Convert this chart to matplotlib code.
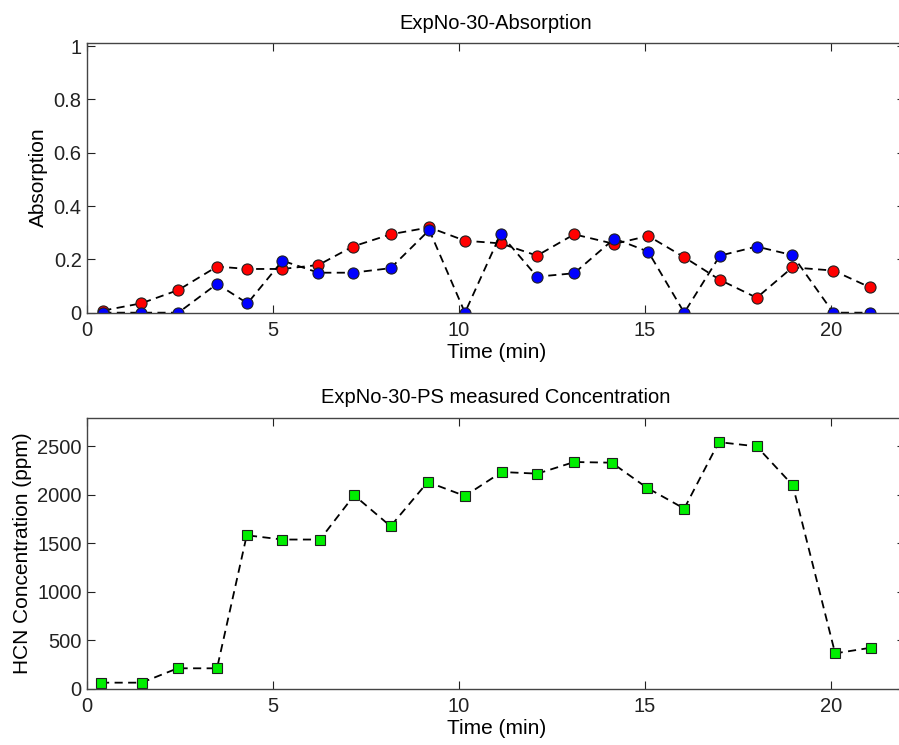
import matplotlib
matplotlib.use('Agg')

import matplotlib.pyplot as plt

plt.rcParams['font.family'] = ['Liberation Sans', 'DejaVu Sans']

# time points (min)
time_abs = [0.43, 1.45, 2.45, 3.49, 4.31, 5.25, 6.22, 7.14, 8.16, 9.2, 10.16,
            11.12, 12.1, 13.1, 14.18, 15.09, 16.06, 17.02, 18.01, 18.97, 20.07, 21.06]
abs_red = [0.008, 0.035, 0.085, 0.173, 0.164, 0.164, 0.179, 0.248, 0.294, 0.32, 0.27,
           0.26, 0.214, 0.294, 0.258, 0.288, 0.208, 0.123, 0.056, 0.17, 0.158, 0.095]
abs_blue = [0.0, 0.0, 0.0, 0.108, 0.035, 0.195, 0.15, 0.15, 0.167, 0.31, 0.0,
            0.295, 0.135, 0.148, 0.278, 0.229, 0.0, 0.214, 0.248, 0.216, 0.0, 0.0]

time_conc = [0.37, 1.46, 2.43, 3.49, 4.29, 5.25, 6.26, 7.18, 8.16, 9.16, 10.16,
             11.15, 12.11, 13.1, 14.11, 15.05, 16.06, 16.99, 18.01, 18.98, 20.12, 21.08]
hcn_conc = [65, 65, 213, 213, 1584, 1540, 1540, 1996, 1677, 2133, 1989,
            2236, 2219, 2339, 2332, 2075, 1859, 2544, 2500, 2099, 367, 425]

dash = (0, (4.5, 3))

fig = plt.figure(figsize=(8.99, 7.45), dpi=100)
ax1 = fig.add_axes([0.0971, 0.5803, 0.9096, 0.3624])
ax2 = fig.add_axes([0.0971, 0.0752, 0.9096, 0.3634])

ax1.plot(time_abs, abs_red, color='k', ls=dash, lw=1.3, marker='o', ms=8,
         mfc='#ff0000', mec='#202020', mew=0.8)
ax1.plot(time_abs, abs_blue, color='k', ls=dash, lw=1.3, marker='o', ms=8,
         mfc='#0000ff', mec='#202020', mew=0.8)
ax1.set_ylim(0, 1.013)
ax1.set_yticks([0, 0.2, 0.4, 0.6, 0.8, 1])
ax1.set_yticklabels(['0', '0.2', '0.4', '0.6', '0.8', '1'])
ax1.set_title('ExpNo-30-Absorption', fontsize=14.5, pad=10)
ax1.set_ylabel('Absorption', fontsize=15, labelpad=4)

ax2.plot(time_conc, hcn_conc, color='k', ls=dash, lw=1.3, marker='s', ms=7,
         mfc='#00ee00', mec='#202020', mew=0.8)
ax2.set_ylim(0, 2790)
ax2.set_yticks([0, 500, 1000, 1500, 2000, 2500])
ax2.set_title('ExpNo-30-PS measured Concentration', fontsize=14.5, pad=11)
ax2.set_ylabel('HCN Concentration (ppm)', fontsize=15, labelpad=4)

for ax in [ax1, ax2]:
    ax.set_xlim(0, 22)
    ax.set_xticks([0, 5, 10, 15, 20])
    ax.set_xlabel('Time (min)', fontsize=15, labelpad=2)
    ax.tick_params(axis='both', direction='in', length=6, width=0.8,
                   labelsize=14.5, top=True, right=True, colors='#222222', pad=4)
    ax.tick_params(axis='x', pad=6)
    for sp in ax.spines.values():
        sp.set_color('#444444')
        sp.set_linewidth(1.0)

fig.savefig('out.png', dpi=100)
